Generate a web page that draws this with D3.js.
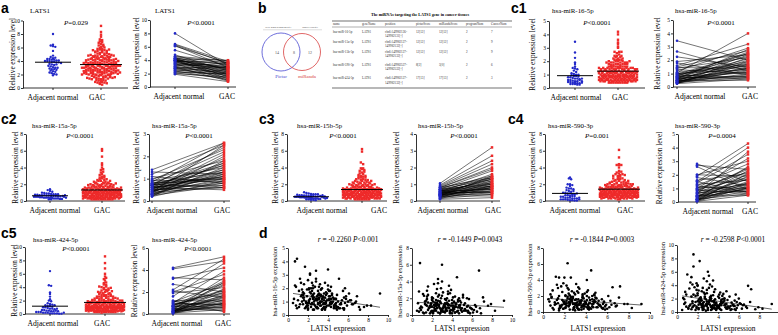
<!DOCTYPE html>
<html>
<head>
<meta charset="utf-8">
<script src="https://cdn.jsdelivr.net/npm/d3@7"></script>
<style>
body { margin: 0; background: #fff; }
svg { display: block; }
</style>
</head>
<body>
<svg width="778" height="335"></svg>
<script>
// groups on the x axis of the dot plots
var groups = ["Adjacent normal", "GAC"];

// LATS1 in GAC tissue (also the x values of the correlation plots)
var lats1Gac = [
  0.6,0.9,1.2,0.8,1.5,1.1,0.7,1.4,1.0,1.3,0.5,1.6,0.9,1.2,1.5,0.8,1.1,1.4,0.7,1.3,
  1.8,1.5,2.0,1.6,2.2,1.7,1.9,1.4,2.1,1.8,1.6,2.0,1.5,1.9,2.2,1.7,2.1,1.8,1.6,2.0,
  2.3,2.0,2.5,2.1,2.4,1.9,2.6,2.2,2.3,2.5,2.0,2.4,2.1,2.6,2.2,2.5,2.3,1.9,2.4,2.1,
  2.7,2.4,2.9,2.5,2.8,2.6,3.0,2.3,2.7,2.9,2.5,2.8,2.4,2.6,3.0,2.7,2.5,2.9,2.6,2.8,
  3.1,2.8,3.3,3.0,3.2,2.9,3.4,3.1,3.0,3.3,2.8,3.2,3.1,3.4,2.9,3.0,3.3,3.2,3.1,2.9,
  3.5,3.2,3.7,3.4,3.6,3.3,3.8,3.5,3.4,3.7,3.2,3.6,3.5,3.8,3.3,3.4,3.7,3.6,3.5,3.3,
  3.9,3.6,4.1,3.8,4.2,3.7,4.0,4.3,3.9,3.8,4.1,3.6,4.0,4.2,3.7,3.9,4.3,3.8,4.0,4.1,
  4.4,4.1,4.6,4.3,4.8,4.2,4.5,4.9,4.4,4.7,4.3,4.6,4.1,4.5,4.8,4.2,4.4,4.7,4.6,4.3,
  5.0,4.7,5.3,4.9,5.6,5.1,4.8,5.4,5.2,5.8,4.6,5.0,5.5,4.9,5.3,5.7,5.1,4.8,5.2,5.6,
  5.9,6.3,5.6,6.7,6.1,7.2,5.8,6.5,7.6,6.0,5.5,6.9,7.9,6.2,5.7,7.1,8.3,6.4,9.2,6.8
];
var lats1Normal = [8.0,6.4,6.3,6.2,6.1,5.5,4.8,4.6,4.4,4.3,4.3,4.2,4.2,4.1,4.1,4.0,4.0,4.0,3.9,3.9,3.8,3.8,3.7,3.6,3.5,3.4,3.3,3.2,3.1,3.0,3.0,2.9,2.8,2.8,2.7,2.6,2.5,2.4,2.3,2.2,2.1,2.0,1.9,3.5,4.5];
var lats1PairGac = [3.2,3.8,3.5,2.9,3.6,3.1,2.4,3.9,2.6,1.8,3.3,2.2,4.0,1.5,2.8,3.4,1.2,2.7,3.0,2.0,3.7,1.6,2.5,3.1,1.0,2.9,2.3,3.5,1.9,2.6,0.9,2.1,1.4,3.0,2.4,1.7,2.2,1.1,1.9,2.0,1.3,1.5,0.8,2.8,3.6];

var mir16Gac = [
  1.2,4.2,0.8,2.1,1.5,0.6,4.0,1.9,1.1,2.4,0.9,1.6,0.5,2.7,1.3,0.7,1.8,1.0,2.2,1.4,
  0.9,1.7,0.4,2.3,1.2,3.6,0.7,1.5,2.0,0.6,1.1,2.6,0.8,1.4,3.1,0.5,1.9,1.0,1.3,0.7,
  1.6,0.5,2.2,1.0,0.8,1.9,1.3,3.0,0.6,1.5,0.9,2.4,1.1,0.4,1.7,1.2,2.0,0.7,1.4,0.9,
  0.7,1.8,1.2,0.4,2.5,1.0,1.5,0.8,2.1,0.6,1.3,3.3,0.9,1.6,0.5,1.1,2.0,1.4,0.8,1.2,
  1.3,0.6,1.9,0.9,2.3,1.1,0.4,1.6,0.8,1.4,2.7,0.7,1.2,1.0,0.5,1.8,1.5,0.9,2.1,1.1,
  0.8,1.5,0.5,2.0,1.1,0.7,1.7,1.3,0.4,2.4,1.0,0.9,1.4,0.6,1.9,1.2,0.8,1.6,0.5,1.0,
  1.1,0.6,1.8,0.9,1.4,0.4,2.2,1.0,0.7,1.5,1.2,0.5,3.4,0.8,1.3,1.6,0.6,1.0,1.9,0.7,
  0.9,1.4,0.5,1.2,0.7,1.8,1.0,0.4,1.5,0.8,2.1,0.6,1.1,1.3,0.5,0.9,1.6,0.7,1.2,0.8,
  0.6,1.2,0.8,1.5,0.4,2.7,0.9,1.1,0.5,1.4,0.7,1.0,1.8,0.6,0.9,2.0,0.5,1.2,0.8,1.3,
  0.7,1.1,0.5,0.9,1.6,0.4,1.2,0.8,0.6,1.0,0.5,1.4,0.7,1.1,0.9,0.6,0.7,0.8,1.6,1.0
];
var mir16Normal = [3.45,2.65,2.25,1.9,1.8,1.6,1.5,1.45,1.4,1.3,1.2,1.1,1.05,1.0,0.95,0.9,0.9,0.85,0.8,0.8,0.75,0.7,0.7,0.65,0.6,0.6,0.55,0.5,0.5,0.45,0.45,0.4,0.4,0.35,0.35,0.3,0.3,0.3,0.25,0.25,0.6,0.7,1.0,0.5,0.4];
var mir16PairGac = [2.0,1.2,1.5,2.4,0.9,3.2,2.7,1.4,2.2,1.0,2.9,1.7,4.0,1.3,2.5,0.7,1.9,2.3,1.1,2.6,0.6,1.6,2.1,0.8,1.8,2.8,1.4,0.5,2.0,1.2,2.4,0.9,1.5,1.7,0.7,1.3,2.2,1.0,0.6,1.9,1.1,2.5,1.6,0.8,1.4];

var mir15aGac = [
  1.4,0.6,2.3,6.2,1.1,0.3,2.8,1.7,0.9,1.3,0.5,3.4,1.0,0.2,1.9,0.8,2.5,1.2,0.4,1.6,
  1.0,2.2,0.5,1.5,3.7,0.8,1.3,0.3,2.0,1.1,0.6,1.8,2.9,0.4,1.2,0.9,1.6,0.2,2.4,1.0,
  0.7,1.9,1.2,0.3,2.6,1.0,4.3,0.5,1.5,0.8,2.1,1.3,0.2,1.7,0.9,3.1,0.6,1.4,1.1,0.4,
  1.2,0.5,2.0,0.9,1.6,0.3,6.0,1.1,2.4,0.7,1.4,0.2,1.8,3.8,0.6,1.0,1.5,0.4,2.2,0.8,
  0.9,1.6,0.3,2.3,1.1,0.6,1.8,0.8,4.0,1.3,0.2,1.0,2.7,0.5,1.4,0.7,1.9,1.2,0.4,3.2,
  1.3,0.4,1.7,0.8,2.5,1.0,0.2,1.5,0.6,3.5,1.1,0.9,2.0,0.3,1.4,0.7,1.2,2.8,0.5,1.0,
  0.6,1.2,2.1,0.4,1.5,0.9,1.8,0.3,1.1,2.6,0.7,1.3,0.2,1.6,0.8,3.0,1.0,0.5,1.4,0.9,
  1.0,0.5,1.6,0.3,1.2,0.8,4.5,0.6,1.4,0.2,2.2,0.9,1.1,0.4,1.7,0.7,1.3,2.0,0.5,1.0,
  0.4,1.1,0.7,1.5,0.3,2.1,0.9,0.5,1.2,0.2,1.8,0.8,1.0,0.6,1.4,0.3,2.4,0.9,0.5,1.1,
  0.8,1.2,0.5,5.3,0.3,1.6,0.9,0.4,1.1,0.7,2.0,0.2,1.3,0.6,1.9,2.1,0.5,1.0,1.7,0.8
];
var mir15aNormal = [1.4,1.3,1.2,1.1,1.0,0.95,0.9,0.9,0.85,0.8,0.8,0.75,0.75,0.7,0.7,0.7,0.65,0.65,0.6,0.6,0.6,0.55,0.55,0.5,0.5,0.5,0.45,0.45,0.4,0.4,0.4,0.35,0.35,0.3,0.3,0.3,0.25,0.25,0.2,0.2,0.6,0.5,0.7,0.8,0.4];
var mir15aPairGac = [2.6,1.2,2.5,0.8,1.8,2.3,1.0,1.5,2.6,0.9,1.3,2.2,0.6,1.7,1.1,2.4,0.7,1.4,1.0,1.9,0.5,1.2,1.6,0.8,2.1,1.3,0.9,1.1,1.7,0.6,1.4,1.0,2.0,0.8,1.2,1.5,0.7,1.3,1.8,0.9,1.1,0.6,1.6,1.0,2.5];

var mir15bGac = [
  1.5,0.4,2.6,1.0,3.9,0.7,1.8,0.2,1.2,6.2,0.9,2.2,1.4,0.5,3.1,1.1,0.3,1.7,2.9,0.8,
  1.3,0.6,2.0,1.0,0.3,5.9,1.6,0.8,2.4,1.1,0.5,1.9,3.6,0.7,1.2,0.2,2.7,1.4,0.9,1.5,
  0.8,1.8,0.4,2.3,1.2,0.6,3.3,1.0,1.6,0.3,2.1,0.9,4.6,1.3,0.5,1.7,0.7,2.5,1.1,0.2,
  1.4,0.9,2.8,0.5,1.1,1.9,0.3,1.5,3.8,0.7,1.2,2.2,0.4,1.0,1.6,0.8,3.0,0.6,1.3,2.0,
  0.7,1.6,1.1,0.2,2.4,0.9,1.4,4.4,0.5,1.8,1.0,0.3,2.9,1.2,0.6,1.5,0.8,2.1,1.3,0.4,
  1.1,0.5,1.9,3.4,0.8,1.3,0.3,2.2,1.0,0.6,1.7,0.9,2.6,0.4,1.4,1.2,0.7,3.9,1.0,0.2,
  0.9,2.0,0.4,1.4,0.7,2.5,1.1,0.3,1.8,0.6,1.2,3.2,0.5,1.5,0.8,1.0,2.3,0.4,1.3,0.9,
  1.2,0.6,1.7,0.3,2.8,1.0,0.5,1.5,0.8,3.5,0.4,1.1,1.9,0.7,1.3,0.2,2.2,0.9,1.0,0.6,
  0.5,1.4,0.9,2.1,0.3,1.1,0.7,1.6,3.0,0.4,1.2,0.8,1.9,0.6,1.0,2.5,0.3,1.3,0.7,1.1,
  0.8,1.5,0.4,1.0,2.4,0.6,1.2,0.3,1.7,0.9,0.5,3.7,1.1,0.7,1.4,0.2,2.0,0.9,1.3,0.6
];
var mir15bNormal = [1.05,0.95,0.9,0.85,0.8,0.8,0.75,0.7,0.7,0.65,0.65,0.6,0.6,0.6,0.55,0.55,0.5,0.5,0.5,0.45,0.45,0.45,0.4,0.4,0.4,0.35,0.35,0.3,0.3,0.3,0.25,0.25,0.2,0.2,0.15,0.15,0.1,0.5,0.6,0.7,0.4,0.3,0.8,0.55,0.35];
var mir15bPairGac = [3.2,2.7,2.4,2.2,1.9,2.0,1.5,1.3,1.8,1.1,1.4,0.9,1.2,1.0,0.7,1.6,0.8,1.3,0.5,1.1,0.9,0.6,1.4,0.4,1.0,0.8,1.2,0.3,0.7,1.5,0.5,0.9,0.6,1.1,0.4,0.8,0.2,1.3,0.7,1.0,0.6,0.9,1.4,0.5,0.8];

var mir590Gac = [
  1.3,0.5,4.4,1.8,4.3,0.9,2.2,1.1,0.3,3.4,1.6,0.7,2.7,1.0,0.4,1.9,1.2,3.0,0.8,1.5,
  0.9,2.0,4.3,0.6,1.4,3.2,0.4,1.7,1.0,2.5,0.8,1.3,0.2,3.6,1.1,0.7,2.1,1.5,0.5,1.2,
  6.1,1.0,1.6,0.5,2.3,1.3,4.3,0.8,1.9,0.3,1.1,2.8,0.6,1.4,3.3,0.9,1.7,0.4,1.2,2.0,
  1.5,0.7,2.4,1.1,0.3,1.8,0.9,3.0,1.3,0.5,2.1,1.0,0.8,1.6,0.2,2.6,1.2,0.6,1.9,1.1,
  0.8,1.7,0.4,2.2,1.2,0.6,2.9,1.0,1.5,0.3,1.9,0.9,3.5,1.3,0.5,1.1,2.4,0.7,1.6,1.0,
  1.2,0.5,2.0,0.9,1.5,3.1,0.7,1.1,0.3,1.8,2.6,0.8,1.3,0.4,1.6,1.0,2.2,0.6,1.4,0.9,
  0.7,1.4,4.0,1.0,0.4,1.8,1.2,0.6,2.3,0.9,1.5,0.3,1.1,2.7,0.8,1.3,0.5,1.7,1.0,2.0,
  1.1,0.6,1.6,0.3,2.1,0.9,5.2,1.3,0.5,1.0,1.8,0.7,2.5,0.4,1.2,0.8,1.5,0.6,2.0,1.1,
  0.6,1.3,0.9,1.8,0.4,1.1,2.2,0.7,1.4,0.3,1.0,1.7,0.5,2.4,0.8,1.2,0.6,1.5,0.9,1.0,
  0.9,1.4,0.5,1.1,2.0,3.2,0.7,3.1,1.0,0.4,1.6,0.8,1.0,0.6,1.3,1.8,0.5,0.9,1.0,0.7
];
var mir590Normal = [2.8,2.7,2.6,2.0,2.0,1.9,1.8,1.6,1.5,1.5,1.4,1.3,1.2,1.1,1.0,1.0,0.9,0.9,0.8,0.8,0.7,0.7,0.6,0.6,0.5,0.5,0.4,0.4,0.4,0.3,0.3,0.3,0.2,0.2,0.2,0.15,0.1,0.1,0.05,0.05,0.6,0.9,1.2,0.4,0.2];
var mir590PairGac = [1.5,2.4,0.9,3.0,1.9,4.3,1.2,2.1,4.0,0.7,3.5,1.6,2.8,1.0,2.2,3.2,0.6,1.8,2.5,1.3,0.8,2.0,1.4,3.7,1.1,0.5,1.7,2.3,0.9,1.5,2.6,1.0,0.6,1.9,1.2,0.8,2.1,1.4,0.5,1.1,1.7,2.4,0.7,1.3,1.0];

var mir424Gac = [
  2.1,0.8,3.5,1.4,4.1,0.5,1.9,5.2,5.6,1.1,0.3,8.6,2.6,0.9,1.6,3.0,0.6,2.3,1.2,4.4,
  1.5,0.7,2.8,6.8,7.6,1.0,3.3,0.4,1.8,2.4,0.9,4.0,1.3,0.6,2.0,3.7,1.1,0.3,2.6,1.6,
  1.2,2.5,0.5,3.2,1.7,0.8,5.0,1.4,2.2,0.3,3.9,1.0,0.6,2.9,1.5,0.9,2.0,4.3,1.1,0.4,
  2.3,0.7,1.6,3.6,1.0,0.4,6.0,1.8,2.7,0.9,1.3,0.2,3.1,1.5,0.6,2.1,1.2,4.6,0.8,1.9,
  5.4,1.1,2.4,0.6,1.7,3.3,0.9,1.4,0.3,2.0,1.0,4.1,1.6,0.5,2.8,1.2,0.8,1.9,3.6,1.3,
  1.0,2.2,0.5,1.6,3.0,0.8,1.3,4.7,0.4,1.9,1.1,0.7,2.5,1.4,0.3,3.8,1.0,1.7,0.6,2.0,
  0.8,1.5,2.6,0.4,1.2,3.4,0.7,1.8,1.0,0.3,2.1,1.4,0.6,2.9,1.1,0.9,1.6,0.5,2.3,1.0,
  1.3,0.6,2.0,1.0,3.1,0.4,1.5,0.8,2.4,1.1,0.3,1.7,0.9,2.7,0.5,1.2,1.9,0.7,1.0,1.4,
  0.7,1.2,0.4,1.8,0.9,2.3,0.6,1.1,0.3,1.5,2.0,0.8,1.0,0.5,1.4,2.6,0.6,1.2,0.9,0.4,
  1.0,0.5,1.7,0.8,1.3,3.4,0.6,1.1,0.4,2.0,0.9,3.9,0.7,1.2,0.3,1.5,0.5,1.0,1.2,0.6
];
var mir424Normal = [6.4,4.3,4.2,3.2,3.0,2.6,2.2,2.0,1.9,1.6,1.5,1.4,1.3,1.2,1.2,1.1,1.0,1.0,0.9,0.8,0.8,0.7,0.6,0.6,0.5,0.5,0.4,0.4,0.3,0.3,0.3,0.2,0.2,0.2,0.1,0.1,0.1,0.1,0.05,0.05,0.5,0.8,1.3,0.4,0.2];
var mir424PairNormal = [4.2,4.1,3.3,3.2,2.7,2.2,2.1,2.0,1.9,1.6,1.2,1.1,1.0,1.0,0.9,0.8,0.7,0.7,0.6,0.5,0.5,0.4,0.4,0.3,0.3,0.3,0.2,0.2,0.2,0.1,0.1,0.1,0.6,0.9,1.1,0.4,0.2,0.8,0.5,0.3,0.15,0.7,1.2,0.25,0.05];
var mir424PairGac = [5.2,4.8,3.1,4.2,2.0,5.0,1.5,3.6,2.4,4.6,1.2,2.8,0.8,3.9,1.8,2.2,0.6,3.0,1.4,2.6,0.9,1.7,3.3,0.5,2.0,1.1,2.9,0.7,1.6,2.3,0.4,1.3,2.7,0.9,1.9,0.6,1.0,2.1,0.3,1.5,0.8,1.2,0.2,1.7,1.0];

// venn and table of panel b
var vennCounts = [14, 8, 12];
var vennNames = ["Pictar", "miRanda"];
var tableHeader = ["name", "geneName", "position", "pictarScore", "miRandaScore", "programNum", "CancerNum"];
var tableRows = [
  ["hsa-miR-16-5p", "LATS1", "chr6:149982126-|149982131[-]", "12[12]", "12[12]", "2", "7"],
  ["hsa-miR-15a-5p", "LATS1", "chr6:149982127-|149982132[-]", "12[12]", "12[12]", "2", "9"],
  ["hsa-miR-15b-5p", "LATS1", "chr6:149982127-|149982132[-]", "12[12]", "12[12]", "2", "9"],
  ["hsa-miR-590-3p", "LATS1", "chr6:149982527-|149982532[-]", "8[2]", "5[0]", "2", "6"],
  ["hsa-miR-424-5p", "LATS1", "chr6:149982127-|149982132[-]", "17[13]", "17[13]", "2", "3"]
];

var svg = d3.select("svg");
var serif = "'Liberation Serif','Times New Roman',serif";
var sans = "'Liberation Sans',Arial,sans-serif";
var blue = "#2228c8", red = "#ee2a2a";

svg.append("rect").attr("width", 778).attr("height", 335).attr("fill", "#fff");

function label(x, y, s, size, anchor) {
  return svg.append("text").attr("x", x).attr("y", y)
    .attr("font-family", serif).attr("font-size", size)
    .attr("text-anchor", anchor || "start").text(s);
}

function pLabel(x, y, rest) {
  var t = svg.append("text").attr("x", x).attr("y", y)
    .attr("font-family", serif).attr("font-size", 7).attr("text-anchor", "middle");
  t.append("tspan").attr("font-style", "italic").text("P");
  t.append("tspan").text(rest);
}

function yLabel(x, y, s, size) {
  svg.append("text").attr("transform", "translate(" + x + "," + y + ") rotate(-90)")
    .attr("font-family", serif).attr("font-size", size).attr("text-anchor", "middle").text(s);
}

function styleAxis(a) {
  a.selectAll("path, line").attr("stroke", "#000").attr("stroke-width", 0.8);
  a.selectAll("text").attr("font-family", serif).attr("font-size", 5.5).attr("fill", "#000");
}

function drawYAxis(y, p) {
  var a = svg.append("g").attr("transform", "translate(" + p.axisX + ",0)")
    .call(d3.axisLeft(y).tickValues(d3.range(0, p.max + 0.001, p.step))
      .tickSize(2).tickSizeOuter(0).tickPadding(1).tickFormat(d3.format("d")));
  styleAxis(a);
}

function drawXAxis(x, p) {
  svg.append("line").attr("x1", p.axisX).attr("x2", p.end)
    .attr("y1", p.bottom).attr("y2", p.bottom)
    .attr("stroke", "#000").attr("stroke-width", 0.8);
  groups.forEach(function (g) {
    svg.append("line").attr("x1", x(g)).attr("x2", x(g))
      .attr("y1", p.bottom).attr("y2", p.bottom + 2)
      .attr("stroke", "#000").attr("stroke-width", 0.8);
  });
  label(p.nL, p.bottom + 12, groups[0], 7.6, "middle");
  label(p.gL, p.bottom + 12, groups[1], 7.6, "middle");
  yLabel(p.ylx, (p.top + p.bottom) / 2, "Relative expression level", 7.2);
  label(p.tx, p.ty, p.title, 6.9);
  pLabel(p.px, p.py, p.p);
}

// spread dots sideways in rows, like a column scatter plot
function spread(vals, y, cx, maxW, rowH) {
  var rows = d3.group(vals, function (v) { return Math.round(y(v) / rowH); });
  var out = [];
  rows.forEach(function (arr) {
    var n = arr.length;
    var sp = n > 1 ? Math.min(rowH, maxW / (n - 1)) : 0;
    arr.forEach(function (v, j) {
      out.push({ x: cx + (j - (n - 1) / 2) * sp, y: y(v) });
    });
  });
  return out;
}

var scatterPanels = [
  { n: lats1Normal, g: lats1Gac, max: 10, step: 2, axisX: 23, end: 128, top: 20.5, bottom: 88, nL: 53, gL: 97, nX: 53, gX: 101, title: "LATS1", tx: 30, ty: 13, p: "=0.029", px: 76, py: 25, ylx: 15 },
  { n: mir16Normal, g: mir16Gac, max: 5, step: 1, axisX: 549, end: 645, top: 21, bottom: 88, nL: 576, gL: 620, nX: 575, gX: 618, title: "hsa-miR-16-5p", tx: 552, ty: 13, p: "<0.0001", px: 597, py: 25, ylx: 535 },
  { n: mir15aNormal, g: mir15aGac, max: 8, step: 2, axisX: 26, end: 125, top: 134, bottom: 201, nL: 55, gL: 102, nX: 50, gX: 102, title: "hsa-miR-15a-5p", tx: 32, ty: 128, p: "<0.0001", px: 80, py: 138, ylx: 18 },
  { n: mir15bNormal, g: mir15bGac, max: 8, step: 2, axisX: 287, end: 387, top: 134, bottom: 201, nL: 322, gL: 379, nX: 311, gX: 362, title: "hsa-miR-15b-5p", tx: 297, ty: 128, p: "<0.0001", px: 343, py: 138, ylx: 278 },
  { n: mir590Normal, g: mir590Gac, max: 8, step: 2, axisX: 545, end: 645, top: 134, bottom: 201, nL: 575, gL: 625, nX: 570, gX: 619, title: "hsa-miR-590-3p", tx: 548, ty: 128, p: "=0.001", px: 597, py: 138, ylx: 535 },
  { n: mir424Normal, g: mir424Gac, max: 10, step: 2, axisX: 25, end: 125, top: 247, bottom: 314, nL: 53, gL: 102, nX: 50, gX: 105, title: "hsa-miR-424-5p", tx: 33, ty: 242, p: "<0.0001", px: 76, py: 251, ylx: 17 }
];

scatterPanels.forEach(function (p) {
  var y = d3.scaleLinear().domain([0, p.max]).range([p.bottom, p.top]);
  var x = d3.scalePoint().domain(groups).range([p.nX, p.gX]);
  drawYAxis(y, p);
  drawXAxis(x, p);
  svg.append("g").selectAll("circle")
    .data(spread(p.n, y, x(groups[0]), 32, 2.3))
    .enter().append("circle")
    .attr("cx", function (d) { return d.x; }).attr("cy", function (d) { return d.y; })
    .attr("r", 1.2).attr("fill", blue);
  svg.append("g").selectAll("rect")
    .data(spread(p.g, y, x(groups[1]), 38, 2.3))
    .enter().append("rect")
    .attr("x", function (d) { return d.x - 1.2; }).attr("y", function (d) { return d.y - 1.2; })
    .attr("width", 2.4).attr("height", 2.4).attr("fill", red);
  [[p.n, x(groups[0]), 18], [p.g, x(groups[1]), 21]].forEach(function (m) {
    var ym = y(d3.mean(m[0]));
    svg.append("line").attr("x1", m[1] - m[2]).attr("x2", m[1] + m[2])
      .attr("y1", ym).attr("y2", ym).attr("stroke", "#000").attr("stroke-width", 1);
  });
});

var pairedPanels = [
  { n: lats1Normal, g: lats1PairGac, max: 10, step: 2, axisX: 150, end: 236, top: 20, bottom: 87, nL: 179, gL: 227, nX: 175, gX: 228, title: "LATS1", tx: 155, ty: 13, p: "<0.0001", px: 201, py: 25, ylx: 139 },
  { n: mir16Normal, g: mir16PairGac, max: 5, step: 1, axisX: 673, end: 756, top: 20, bottom: 87, nL: 700, gL: 750, nX: 677, gX: 748, title: "hsa-miR-16-5p", tx: 675, ty: 13, p: "<0.0001", px: 721, py: 25, ylx: 660 },
  { n: mir15aNormal, g: mir15aPairGac, max: 3, step: 1, axisX: 149, end: 230, top: 134, bottom: 201, nL: 172, gL: 222, nX: 152, gX: 224, title: "hsa-miR-15a-5p", tx: 152, ty: 128, p: "<0.0001", px: 199, py: 138, ylx: 139 },
  { n: mir15bNormal, g: mir15bPairGac, max: 4, step: 1, axisX: 416, end: 500, top: 134, bottom: 201, nL: 443, gL: 493, nX: 440, gX: 492, title: "hsa-miR-15b-5p", tx: 418, ty: 128, p: "<0.0001", px: 464, py: 138, ylx: 399 },
  { n: mir590Normal, g: mir590PairGac, max: 5, step: 1, axisX: 678, end: 756, top: 134, bottom: 202, nL: 708, gL: 750, nX: 697, gX: 748, title: "hsa-miR-590-3p", tx: 675, ty: 128, p: "=0.0004", px: 722, py: 138, ylx: 662 },
  { n: mir424PairNormal, g: mir424PairGac, max: 6, step: 2, axisX: 148, end: 230, top: 248, bottom: 314, nL: 177, gL: 223, nX: 173, gX: 224, title: "hsa-miR-424-5p", tx: 152, ty: 242, p: "<0.0001", px: 198, py: 251, ylx: 137 }
];

pairedPanels.forEach(function (p) {
  var y = d3.scaleLinear().domain([0, p.max]).range([p.bottom, p.top]);
  var x = d3.scalePoint().domain(groups).range([p.nX, p.gX]);
  drawYAxis(y, p);
  drawXAxis(x, p);
  var pairs = d3.zip(p.n, p.g);
  svg.append("g").selectAll("line").data(pairs).enter().append("line")
    .attr("x1", x(groups[0])).attr("x2", x(groups[1]))
    .attr("y1", function (d) { return y(d[0]); }).attr("y2", function (d) { return y(d[1]); })
    .attr("stroke", "#000").attr("stroke-width", 0.55);
  svg.append("g").selectAll("circle").data(p.n).enter().append("circle")
    .attr("cx", x(groups[0])).attr("cy", function (d) { return y(d); })
    .attr("r", 1.3).attr("fill", blue);
  svg.append("g").selectAll("rect").data(p.g).enter().append("rect")
    .attr("x", x(groups[1]) - 1.25).attr("y", function (d) { return y(d) - 1.25; })
    .attr("width", 2.5).attr("height", 2.5).attr("fill", red);
});

var corrPanels = [
  { v: mir16Gac, max: 5, step: 1, axisX: 288, w: 100, top: 248, bottom: 315, r: "-0.2260", p: "<0.001", tcx: 348, name: "hsa-miR-16-5p expression", ylx: 277, xlx: 338, xmax: 10 },
  { v: mir15aGac, max: 8, step: 2, axisX: 412, w: 100, top: 248, bottom: 315, r: "-0.1449", p: "=0.0043", tcx: 470, name: "hsa-miR-15a-5p expression", ylx: 402, xlx: 462, xmax: 10 },
  { v: mir590Gac, max: 8, step: 2, axisX: 543, w: 107, top: 248, bottom: 312, r: "-0.1844", p: "=0.0003", tcx: 602, name: "hsa-miR-590-3p expression", ylx: 532, xlx: 598, xmax: 10 },
  { v: mir424Gac, max: 10, step: 2, axisX: 677, w: 103, top: 245, bottom: 312, r: "-0.2598", p: "<0.0001", tcx: 733, name: "hsa-miR-424-5p expression", ylx: 665, xlx: 728, xmax: 8 }
];

corrPanels.forEach(function (p) {
  var x = d3.scaleLinear().domain([0, 10]).range([p.axisX, p.axisX + p.w]);
  var y = d3.scaleLinear().domain([0, p.max]).range([p.bottom, p.top]);
  drawYAxis(y, p);
  var ax = svg.append("g").attr("transform", "translate(0," + p.bottom + ")")
    .call(d3.axisBottom(x).tickValues(d3.range(0, p.xmax + 0.001, 2))
      .tickSize(2).tickSizeOuter(0).tickPadding(1).tickFormat(d3.format("d")));
  styleAxis(ax);
  var pts = d3.zip(lats1Gac, p.v);
  svg.append("g").selectAll("circle").data(pts).enter().append("circle")
    .attr("cx", function (d) { return x(d[0]); }).attr("cy", function (d) { return y(d[1]); })
    .attr("r", 1.3).attr("fill", "#000");
  // least squares line
  var mx = d3.mean(lats1Gac), my = d3.mean(p.v);
  var b = d3.sum(pts, function (d) { return (d[0] - mx) * (d[1] - my); }) /
          d3.sum(lats1Gac, function (v) { return (v - mx) * (v - mx); });
  var x0 = d3.min(lats1Gac), x1 = d3.max(lats1Gac);
  svg.append("line").attr("x1", x(x0)).attr("x2", x(x1))
    .attr("y1", y(my + b * (x0 - mx))).attr("y2", y(my + b * (x1 - mx)))
    .attr("stroke", "#000").attr("stroke-width", 0.6);
  var t = svg.append("text").attr("x", p.tcx).attr("y", 242)
    .attr("font-family", serif).attr("font-size", 7.4).attr("text-anchor", "middle");
  t.append("tspan").attr("font-style", "italic").text("r");
  t.append("tspan").text(" = " + p.r + " ");
  t.append("tspan").attr("font-style", "italic").text("P");
  t.append("tspan").text(p.p);
  yLabel(p.ylx, (p.top + p.bottom) / 2, p.name, 6.6);
  label(p.xlx, 331, "LATS1 expression", 7.4, "middle");
});

// panel b: venn diagram
svg.append("circle").attr("cx", 281).attr("cy", 52).attr("r", 19)
  .attr("fill", "none").attr("stroke", "#4a4ad0").attr("stroke-width", 0.8);
svg.append("circle").attr("cx", 302).attr("cy", 52).attr("r", 18.5)
  .attr("fill", "none").attr("stroke", "#d84040").attr("stroke-width", 0.8);
[[277, vennCounts[0]], [294, vennCounts[1]], [310, vennCounts[2]]].forEach(function (d) {
  label(d[0], 53.5, d[1], 4, "middle").attr("fill", "#555");
});
label(281, 78, vennNames[0], 5, "middle").attr("fill", "#4a4ad0");
label(307, 78, vennNames[1], 5, "middle").attr("fill", "#d84040");
label(278, 28, "Very high stringency≥3", 2.8, "middle").attr("fill", "#444");
label(310, 28, "cancer type≥3", 2.8, "middle").attr("fill", "#444");
svg.append("line").attr("x1", 263).attr("x2", 322).attr("y1", 29.8).attr("y2", 29.8)
  .attr("stroke", "#888").attr("stroke-width", 0.3);

// panel b: table
var colX = [333, 362, 385, 416, 439, 466, 491];
label(420, 15.5, "The miRNAs targeting the LATS1 gene in cancer tissues", 4.1, "middle")
  .attr("font-weight", "bold");
[[21, 0.7], [27, 0.4], [88, 0.7]].forEach(function (r) {
  svg.append("line").attr("x1", 332).attr("x2", 512).attr("y1", r[0]).attr("y2", r[0])
    .attr("stroke", "#333").attr("stroke-width", r[1]);
});
tableHeader.forEach(function (h, i) { label(colX[i], 25, h, 3.2).attr("fill", "#333"); });
var rowY = [32.5, 42.5, 52.5, 65.5, 79];
tableRows.forEach(function (row, r) {
  row.forEach(function (c, i) {
    c.split("|").forEach(function (part, k) {
      label(colX[i], rowY[r] + k * 4.7, part, 3.2).attr("fill", "#333");
    });
  });
});

// panel letters
[["a", 1, 13], ["b", 258, 13], ["c1", 511, 13], ["c2", 1, 124], ["c3", 259, 124],
 ["c4", 508, 124], ["c5", 1, 238], ["d", 259, 238]].forEach(function (d) {
  svg.append("text").attr("x", d[1]).attr("y", d[2]).attr("font-family", sans)
    .attr("font-weight", "bold").attr("font-size", 14).text(d[0]);
});
</script>
</body>
</html>
